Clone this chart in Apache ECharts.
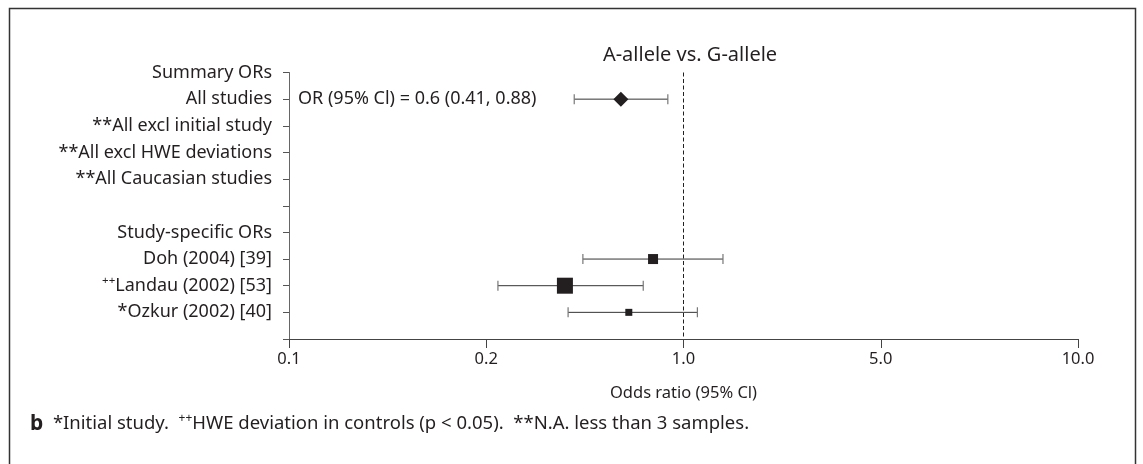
<!DOCTYPE html>
<html>
<head>
<meta charset="utf-8">
<script src="https://cdn.jsdelivr.net/npm/echarts@6/dist/echarts.min.js"></script>
<style>
  html, body { margin: 0; padding: 0; background: #fff; }
  #chartsDiv { width: 1143px; height: 464px; }
</style>
</head>
<body>
<div id="chartsDiv"></div>
<script>
// rows of the forest plot, top to bottom ('sup' = superscript prefix)
var rowLabels = ['Summary ORs', 'All studies', '**All excl initial study', '**All excl HWE deviations',
  '**All Caucasian studies', '', 'Study-specific ORs', 'Doh (2004) [39]', 'Landau (2002) [53]', '*Ozkur (2002) [40]']
var rowSup = ['', '', '', '', '', '', '', '', '++', '']

// x axis break points (each piece drawn equally wide, log inside a piece)
var tickValues = [0.1, 0.2, 1.0, 5.0, 10.0]
var tickLabels = ['0.1', '0.2', '1.0', '5.0', '10.0']

// summary estimate
var summaryRow = [1]
var summaryOR = [0.6]
var summaryLow = [0.41]
var summaryHigh = [0.88]

// study specific estimates
var studyRows = [7, 8, 9]
var studyOR = [0.78, 0.38, 0.64]
var studyLow = [0.44, 0.22, 0.39]
var studyHigh = [1.38, 0.72, 1.12]
var studyWeight = [10, 16, 7]

var toAxis = function(v) {
  for (var i = 0; i < tickValues.length - 1; i++) {
    var a = tickValues[i], b = tickValues[i + 1]
    if (v <= b || i === tickValues.length - 2) {
      return i + Math.log(v / a) / Math.log(b / a)
    }
  }
}

var ciData = []
summaryRow.forEach(function(r, i) {
  ciData.push([toAxis(summaryLow[i]), toAxis(summaryHigh[i]), r])
})
studyRows.forEach(function(r, i) {
  ciData.push([toAxis(studyLow[i]), toAxis(studyHigh[i]), r])
})

var ink = '#231f20'
var font = 'Noto Sans'

var realChart = echarts.init(document.getElementById('chartsDiv'), null, { renderer: 'canvas' })

var option = {
  animation: false,
  textStyle: { fontFamily: font, color: ink },
  title: [
    {
      text: 'A-allele vs. G-allele',
      left: 685,
      top: 40,
      textAlign: 'center',
      textStyle: { fontFamily: font, fontSize: 20, fontWeight: 'normal', color: ink }
    },
    {
      text: '{b|b}  *Initial study.  {sup|++}HWE deviation in controls (p < 0.05).  **N.A. less than 3 samples.',
      left: 25,
      top: 408,
      textStyle: {
        fontFamily: font, fontSize: 18.5, fontWeight: 'normal', color: ink,
        rich: {
          b: { fontFamily: font, fontSize: 21, fontWeight: 'bold', color: ink },
          sup: { fontFamily: font, fontSize: 12, color: ink, verticalAlign: 'top', lineHeight: 22 }
        }
      }
    }
  ],
  graphic: [
    {
      type: 'rect',
      shape: { x: 9.5, y: 8.5, width: 1126, height: 500 },
      style: { fill: 'none', stroke: '#333', lineWidth: 1.5 },
      silent: true
    }
  ],
  grid: { left: 289, right: 65, top: 72.5, bottom: 125 },
  xAxis: {
    type: 'value',
    position: 'bottom',
    min: 0,
    max: 4,
    interval: 1,
    name: 'Odds ratio (95% Cl)',
    nameLocation: 'middle',
    nameGap: 46,
    nameTextStyle: { fontFamily: font, fontSize: 16.5, color: ink },
    axisLine: { show: true, onZero: false, lineStyle: { color: '#444', width: 1 } },
    axisTick: { show: true, length: 9, lineStyle: { color: '#444' } },
    axisLabel: {
      margin: 12,
      fontFamily: font,
      fontSize: 16.5,
      color: ink,
      formatter: function(v) {
        return tickLabels[Math.round(v)]
      }
    },
    splitLine: { show: false }
  },
  yAxis: {
    type: 'value',
    min: 0,
    max: 10,
    interval: 1,
    inverse: true,
    axisLine: { show: true, onZero: false, lineStyle: { color: '#666', width: 1 } },
    axisTick: { show: true, length: 6, lineStyle: { color: '#555' } },
    axisLabel: {
      margin: 17,
      fontFamily: font,
      fontSize: 18,
      color: ink,
      formatter: function(v) {
        var i = Math.round(v)
        if (i >= rowLabels.length || rowLabels[i] === '') return ''
        return (rowSup[i] ? '{sup|' + rowSup[i] + '}' : '') + '{t|' + rowLabels[i] + '}'
      },
      rich: {
        t: { fontFamily: font, fontSize: 18, color: ink, lineHeight: 22 },
        sup: { fontFamily: font, fontSize: 11.5, color: ink, verticalAlign: 'top', lineHeight: 22 }
      }
    },
    splitLine: { show: false }
  },
  series: [
    {
      name: 'ci',
      type: 'custom',
      data: ciData,
      renderItem: function(params, api) {
        var p1 = api.coord([api.value(0), api.value(2)])
        var p2 = api.coord([api.value(1), api.value(2)])
        var h = 5
        return {
          type: 'group',
          children: [
            { type: 'line', shape: { x1: p1[0], y1: p1[1], x2: p2[0], y2: p2[1] }, style: { stroke: '#333', lineWidth: 1 } },
            { type: 'line', shape: { x1: p1[0], y1: p1[1] - h, x2: p1[0], y2: p1[1] + h }, style: { stroke: '#777', lineWidth: 1.2 } },
            { type: 'line', shape: { x1: p2[0], y1: p2[1] - h, x2: p2[0], y2: p2[1] + h }, style: { stroke: '#777', lineWidth: 1.2 } }
          ]
        }
      },
      markLine: {
        silent: true,
        symbol: ['none', 'none'],
        label: { show: false },
        lineStyle: { color: ink, type: [4, 2.5], width: 1 },
        data: [{ xAxis: toAxis(1.0) }]
      },
      z: 2
    },
    {
      name: 'summary',
      type: 'scatter',
      symbol: 'diamond',
      symbolSize: 15,
      itemStyle: { color: ink, opacity: 1 },
      data: summaryRow.map(function(r, i) { return [toAxis(summaryOR[i]), r] }),
      z: 3
    },
    {
      name: 'summaryText',
      type: 'scatter',
      symbolSize: 0,
      silent: true,
      itemStyle: { color: ink, opacity: 1 },
      label: {
        show: true,
        position: 'right',
        distance: 9,
        fontFamily: font,
        fontSize: 18,
        color: ink,
        opacity: 1,
        formatter: function(p) {
          var i = p.dataIndex
          return 'OR (95% Cl) = ' + summaryOR[i] + ' (' + summaryLow[i] + ', ' + summaryHigh[i] + ')'
        }
      },
      data: summaryRow.map(function(r) { return [0, r] })
    },
    {
      name: 'studies',
      type: 'scatter',
      symbol: 'rect',
      itemStyle: { color: ink, opacity: 1 },
      symbolSize: function(val, p) { return studyWeight[p.dataIndex] },
      data: studyRows.map(function(r, i) { return [toAxis(studyOR[i]), r] }),
      z: 3
    }
  ]
}

realChart.setOption(option)
</script>
</body>
</html>
